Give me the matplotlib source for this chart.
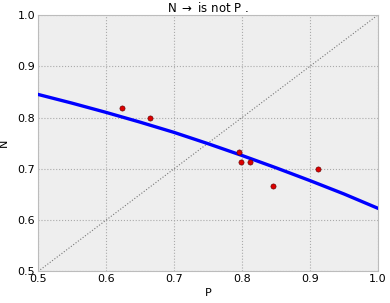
import numpy as np
import matplotlib.pyplot as plt

# observed points
p_obs = [0.624, 0.665, 0.796, 0.799, 0.812, 0.845, 0.912]
n_obs = [0.818, 0.800, 0.733, 0.714, 0.714, 0.667, 0.700]

# fitted curve
p_fit = [0.50, 0.55, 0.60, 0.65, 0.70, 0.75, 0.80, 0.85, 0.90, 0.95, 1.00]
n_fit = [0.845, 0.828, 0.810, 0.791, 0.771, 0.749, 0.726, 0.702, 0.677, 0.651, 0.623]

plt.rcParams['font.size'] = 8

fig = plt.figure(figsize=(3.9, 3.03), dpi=100)
ax = fig.add_axes([0.0974, 0.104, 0.872, 0.847])
ax.set_facecolor('#eeeeee')
for s in ax.spines.values():
    s.set_color('#bcbcbc')
    s.set_linewidth(0.8)

ax.plot([0.5, 1.0], [0.5, 1.0], color='#777777', linestyle=':', linewidth=0.8, zorder=2)
ax.plot(p_fit, n_fit, color='#0000ff', linewidth=2.4, zorder=3)
ax.scatter(p_obs, n_obs, s=14, color='#dd0000', edgecolors='#550000', linewidths=0.4, zorder=4)

ax.set_xlim(0.5, 1.0)
ax.set_ylim(0.5, 1.0)
ax.set_xticks([0.5, 0.6, 0.7, 0.8, 0.9, 1.0])
ax.set_yticks([0.5, 0.6, 0.7, 0.8, 0.9, 1.0])
ax.tick_params(length=0, pad=2, labelsize=8)
ax.grid(True, color='#aaaaaa', linestyle=':', linewidth=0.8)
ax.set_axisbelow(True)

ax.set_xlabel('P', fontsize=8, labelpad=3)
ax.set_ylabel('N', fontsize=8, labelpad=6)
ax.set_title(r'N $\rightarrow$ is not P .', fontsize=8.5, pad=2)

fig.savefig('out.png', dpi=100)
